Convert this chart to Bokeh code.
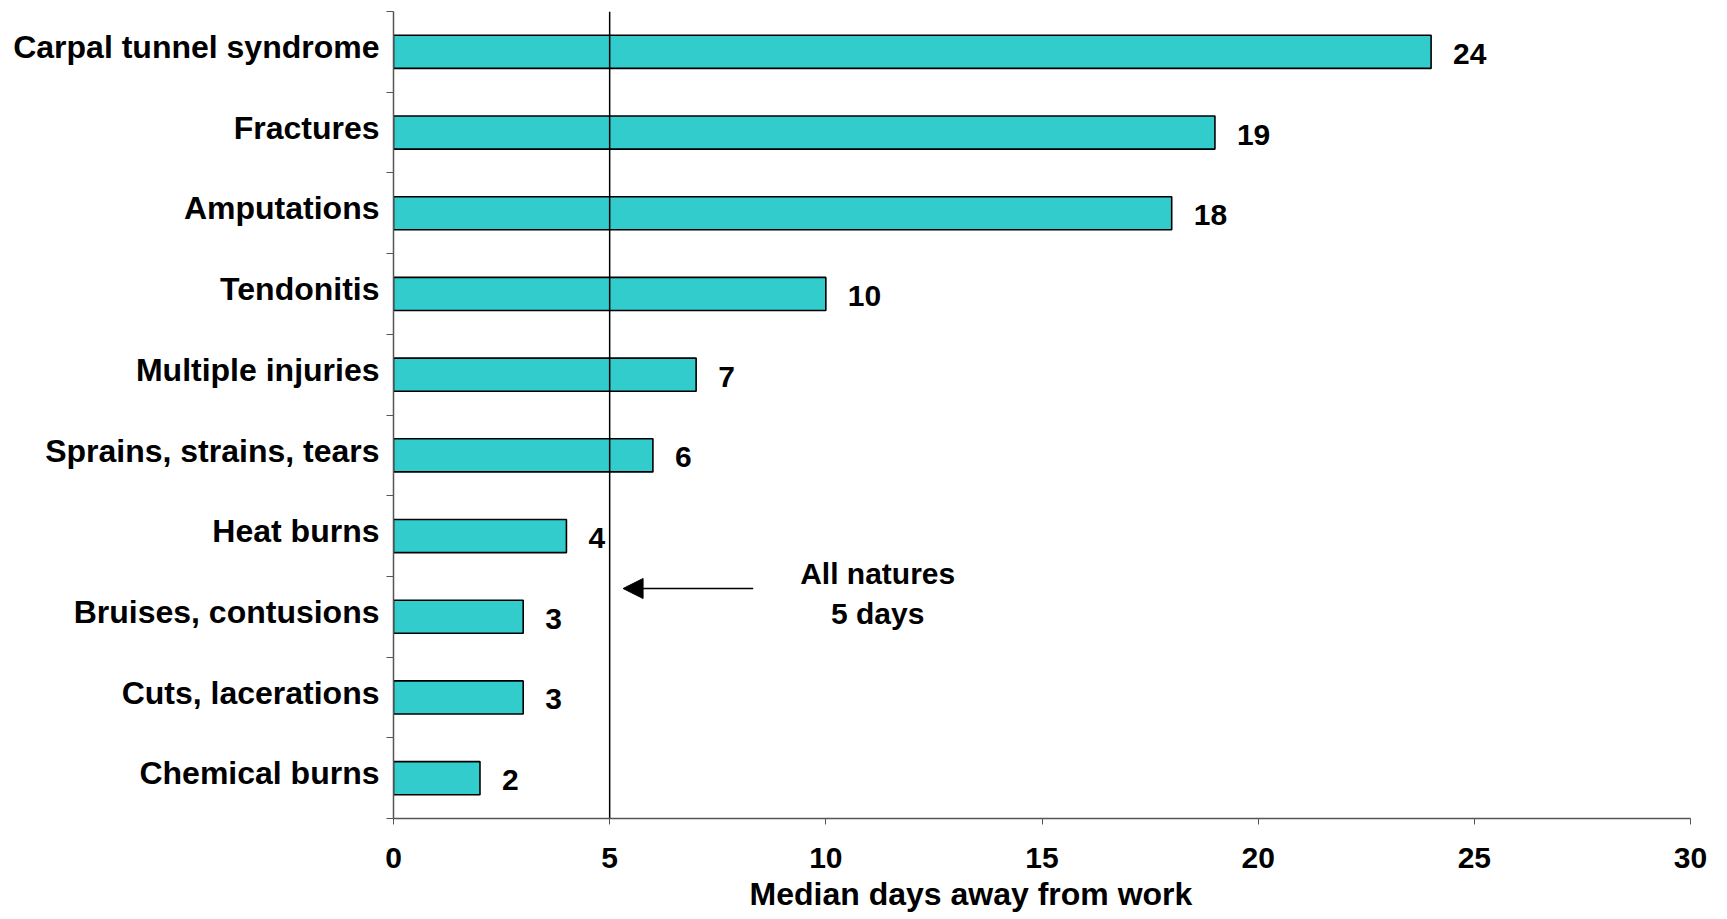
from bokeh.plotting import figure
from bokeh.models import Range1d, FixedTicker, Arrow, NormalHead, Title, ColumnDataSource
from bokeh.core.properties import value
from bokeh.embed import file_html
from bokeh.resources import INLINE

# ---- data (top to bottom as drawn) ----
categories = ["Carpal tunnel syndrome", "Fractures", "Amputations", "Tendonitis",
              "Multiple injuries", "Sprains, strains, tears", "Heat burns",
              "Bruises, contusions", "Cuts, lacerations", "Chemical burns"]
median_days = [24, 19, 18, 10, 7, 6, 4, 3, 3, 2]
x_ticks = [0, 5, 10, 15, 20, 25, 30]
all_natures_days = 5
note_text = "All natures\n5 days"
x_title = "Median days away from work"

# ---- annotation placement (data coordinates) ----
arrow_x_start, arrow_x_end, arrow_y = 8.32, 5.31, 2.85
note_x, note_y = 11.2, 2.79
label_lift = 0.06        # category labels sit slightly above bar centres
x_title_offset = 356     # px from the frame's left edge

FONT = "Liberation Sans"
n = len(categories)
positions = [n - i - 0.5 for i in range(n)]
label_positions = [pos + label_lift for pos in positions]

src = ColumnDataSource(dict(y=positions, v=median_days, lab=[str(v) for v in median_days]))

p = figure(width=1727, height=919, output_backend="svg", toolbar_location=None,
           x_range=Range1d(0, 30), y_range=Range1d(0, n),
           min_border_left=393, min_border_right=37, min_border_top=11, min_border_bottom=101)
p.outline_line_color = None
p.grid.visible = False
p.background_fill_color = "white"
p.border_fill_color = "white"

p.hbar(y="y", right="v", left=0, height=0.41, source=src,
       fill_color="#33CCCC", line_color="black", line_width=1.6)

p.text(x="v", y="y", text="lab", source=src, x_offset=22, y_offset=2,
       text_font=value(FONT), text_font_style="bold", text_font_size="30px",
       text_baseline="middle", text_align="left", text_color="black")

# reference line and note
p.segment(x0=[all_natures_days], y0=[0], x1=[all_natures_days], y1=[n],
          line_color="black", line_width=1.5)
p.add_layout(Arrow(end=NormalHead(size=20, fill_color="black", line_color="black"),
                   x_start=arrow_x_start, y_start=arrow_y, x_end=arrow_x_end, y_end=arrow_y,
                   line_color="black", line_width=1.5))
p.text(x=[note_x], y=[note_y], text=[note_text], text_font=value(FONT), text_font_style="bold",
       text_font_size="30px", text_align="center", text_baseline="middle", text_color="black")

# x axis
xa = p.xaxis[0]
xa.ticker = FixedTicker(ticks=x_ticks, minor_ticks=[])
xa.axis_line_color = "#555555"
xa.axis_line_width = 1.5
xa.major_tick_line_color = "#555555"
xa.major_tick_in = 0
xa.major_tick_out = 6
xa.minor_tick_line_color = None
xa.major_label_standoff = 23
xa.major_label_text_font = FONT
xa.major_label_text_font_style = "bold"
xa.major_label_text_font_size = "30px"
xa.major_label_text_color = "black"

# y axis: labels at band centres, ticks at band edges
ya = p.yaxis[0]
ya.ticker = FixedTicker(ticks=label_positions, minor_ticks=list(range(n + 1)))
ya.major_label_overrides = {pos: cat for pos, cat in zip(label_positions, categories)}
ya.axis_line_color = "#555555"
ya.axis_line_width = 1.5
ya.major_tick_line_color = None
ya.major_tick_in = 0
ya.major_tick_out = 7
ya.minor_tick_line_color = "#555555"
ya.minor_tick_in = 0
ya.minor_tick_out = 7
ya.major_label_standoff = 7
ya.major_label_text_font = FONT
ya.major_label_text_font_style = "bold"
ya.major_label_text_font_size = "32px"
ya.major_label_text_color = "black"

p.add_layout(Title(text=x_title, align="left", offset=x_title_offset, standoff=6, text_font=FONT,
                   text_font_style="bold", text_font_size="32px", text_color="black"), "below")

open("out.html", "w").write(file_html(p, INLINE))
